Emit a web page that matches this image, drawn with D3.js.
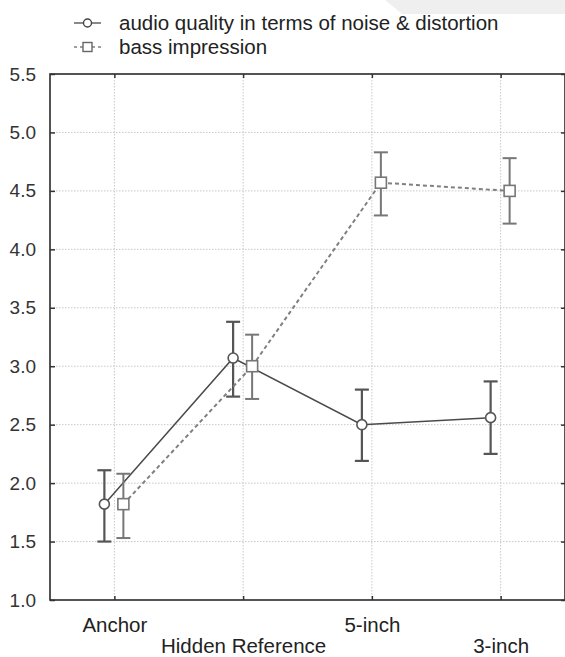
<!DOCTYPE html>
<html>
<head>
<meta charset="utf-8">
<script src="https://cdn.jsdelivr.net/npm/d3@7"></script>
<style>
  html, body { margin: 0; padding: 0; background: #fff; }
  svg { display: block; }
  text { font-family: "Liberation Sans", Arial, sans-serif; }
</style>
</head>
<body>
<script>
// Listening-test results: mean score with 95% confidence intervals per condition
const categories = ["Anchor", "Hidden Reference", "5-inch", "3-inch"];
const labelRow = [0, 1, 0, 1];

const audioMean = [1.82, 3.07, 2.50, 2.56];
const audioLow  = [1.50, 2.74, 2.19, 2.25];
const audioHigh = [2.11, 3.38, 2.80, 2.87];

const bassMean = [1.82, 3.00, 4.57, 4.50];
const bassLow  = [1.53, 2.72, 4.29, 4.22];
const bassHigh = [2.08, 3.27, 4.83, 4.78];

const yTicks = [1.0, 1.5, 2.0, 2.5, 3.0, 3.5, 4.0, 4.5, 5.0, 5.5];
const legendLabels = ["audio quality in terms of noise & distortion", "bass impression"];

const W = 565, H = 657;
const m = { left: 50, top: 74, right: 0, bottom: 57 };

const svg = d3.select("body").append("svg").attr("width", W).attr("height", H);

// faint scan tint in the upper right corner
svg.append("path")
  .attr("d", "M385,0 L565,0 L565,14 L402,14 Z")
  .attr("fill", "#efefef");

const x = d3.scalePoint().domain(categories).range([m.left, W - m.right]).padding(0.5);
const y = d3.scaleLinear().domain([1.0, 5.5]).range([H - m.bottom, m.top]);

const x0 = m.left, x1 = W - m.right, y0 = H - m.bottom, y1 = m.top;

// dotted grid
const grid = svg.append("g").attr("stroke", "#c8c8c8").attr("stroke-width", 1).attr("stroke-dasharray", "1.5,1.5");
grid.selectAll("line.h").data(yTicks.slice(1, -1)).join("line")
  .attr("x1", x0).attr("x2", x1).attr("y1", d => y(d)).attr("y2", d => y(d));
grid.selectAll("line.v").data(categories).join("line")
  .attr("x1", d => x(d)).attr("x2", d => x(d)).attr("y1", y1).attr("y2", y0);

// frame
svg.append("rect").attr("x", x0).attr("y", y1).attr("width", x1 - x0).attr("height", y0 - y1)
  .attr("fill", "none").attr("stroke", "#2a2a2a").attr("stroke-width", 1.6);

// left axis with inward ticks
const yAxis = d3.axisLeft(y).tickValues(yTicks).tickSize(-5).tickPadding(14).tickFormat(d3.format(".1f"));
const gy = svg.append("g").attr("transform", `translate(${x0},0)`).call(yAxis);
gy.select(".domain").remove();
gy.selectAll(".tick line").attr("stroke", "#333").attr("stroke-width", 1.5);
gy.selectAll(".tick text").attr("font-size", 19).attr("fill", "#333")
  .attr("font-family", "'Liberation Sans', Arial, sans-serif").attr("x", -14);

// right axis ticks
const gyr = svg.append("g").attr("transform", `translate(${x1},0)`)
  .call(d3.axisRight(y).tickValues(yTicks).tickSize(-4).tickFormat(""));
gyr.select(".domain").remove();
gyr.selectAll(".tick line").attr("stroke", "#333").attr("stroke-width", 1.5);

// bottom axis ticks and two-row category labels
const gx = svg.append("g").attr("transform", `translate(0,${y0})`)
  .call(d3.axisBottom(x).tickSize(-4).tickFormat(""));
gx.select(".domain").remove();
gx.selectAll(".tick line").attr("stroke", "#333").attr("stroke-width", 1.5);
gx.selectAll(".tick").append("text")
  .attr("y", (d, i) => labelRow[i] === 0 ? 32 : 53)
  .attr("text-anchor", "middle")
  .attr("font-size", 20.5)
  .attr("fill", "#222")
  .text(d => d);

// top axis ticks
const gxt = svg.append("g").attr("transform", `translate(0,${y1})`)
  .call(d3.axisTop(x).tickSize(-4).tickFormat(""));
gxt.select(".domain").remove();
gxt.selectAll(".tick line").attr("stroke", "#333").attr("stroke-width", 1.5);

// series definitions
const series = [
  { mean: audioMean, low: audioLow, high: audioHigh, dx: -10, line: "#4a4a4a", lw: 1.5, dash: null,
    err: "#555", ew: 2.2, marker: "circle" },
  { mean: bassMean, low: bassLow, high: bassHigh, dx: 9, line: "#808080", lw: 2, dash: "4,3",
    err: "#777", ew: 2, marker: "square" }
];

series.forEach(s => {
  const pts = categories.map((c, i) => ({ c, i, px: x(c) + s.dx }));
  const line = d3.line().x(d => d.px).y(d => y(s.mean[d.i]));
  svg.append("path").datum(pts).attr("d", line)
    .attr("fill", "none").attr("stroke", s.line).attr("stroke-width", s.lw)
    .attr("stroke-dasharray", s.dash);

  const eg = svg.append("g").attr("stroke", s.err).attr("stroke-width", s.ew);
  pts.forEach(d => {
    eg.append("line").attr("x1", d.px).attr("x2", d.px)
      .attr("y1", y(s.low[d.i])).attr("y2", y(s.high[d.i]));
    [s.low[d.i], s.high[d.i]].forEach(v => {
      eg.append("line").attr("x1", d.px - 7).attr("x2", d.px + 7)
        .attr("y1", y(v)).attr("y2", y(v));
    });
  });

  const mg = svg.append("g").attr("fill", "#fff").attr("stroke", s.err).attr("stroke-width", 1.6);
  pts.forEach(d => {
    if (s.marker === "circle") {
      mg.append("circle").attr("cx", d.px).attr("cy", y(s.mean[d.i])).attr("r", 5);
    } else {
      mg.append("rect").attr("x", d.px - 5.5).attr("y", y(s.mean[d.i]) - 5.5)
        .attr("width", 11).attr("height", 11);
    }
  });
});

// legend
const lg = svg.append("g");
const legendRows = [
  { y: 30, label: legendLabels[0], dash: null, stroke: "#4a4a4a", marker: "circle" },
  { y: 54, label: legendLabels[1], dash: "3,3", stroke: "#808080", marker: "square" }
];
legendRows.forEach(r => {
  const cy = r.y - 7;
  lg.append("line").attr("x1", 74).attr("x2", 101).attr("y1", cy).attr("y2", cy)
    .attr("stroke", r.stroke).attr("stroke-width", 1.3).attr("stroke-dasharray", r.dash);
  if (r.marker === "circle") {
    lg.append("circle").attr("cx", 87.5).attr("cy", cy).attr("r", 4)
      .attr("fill", "#fff").attr("stroke", "#444").attr("stroke-width", 1.4);
  } else {
    lg.append("rect").attr("x", 83).attr("y", cy - 4.5).attr("width", 9).attr("height", 9)
      .attr("fill", "#fff").attr("stroke", "#666").attr("stroke-width", 1.4);
  }
  lg.append("text").attr("x", 119).attr("y", r.y).attr("font-size", 20.5).attr("fill", "#222")
    .text(r.label);
});
</script>
</body>
</html>
